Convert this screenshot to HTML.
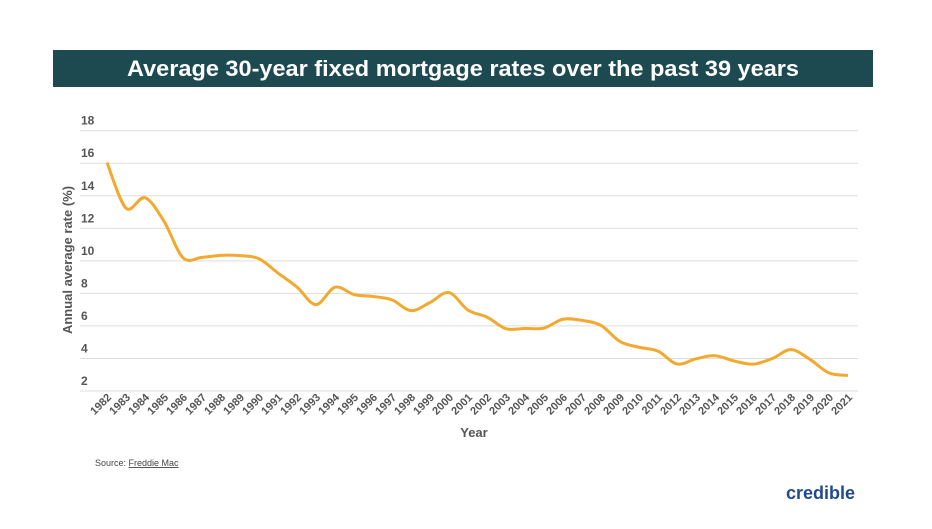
<!DOCTYPE html>
<html><head><meta charset="utf-8"><style>
body{margin:0;background:#fff;width:932px;height:524px;overflow:hidden;font-family:"Liberation Sans",sans-serif}
</style></head><body>
<svg width="932" height="524">
<rect x="53" y="50" width="820" height="37" fill="#1d4950"/>
<text x="127" y="76" textLength="672" lengthAdjust="spacingAndGlyphs" fill="#fff" font-size="22" font-weight="bold">Average 30-year fixed mortgage rates over the past 39 years</text>
<g id="grid"></g><g id="xl"></g>
<text transform="translate(72,260) rotate(-90)" text-anchor="middle" font-size="13" font-weight="bold" fill="#555">Annual average rate (%)</text>
<text x="474" y="437" text-anchor="middle" font-size="13" font-weight="bold" fill="#555">Year</text>
<text x="95" y="466" font-size="9" fill="#444">Source: <tspan text-decoration="underline">Freddie Mac</tspan></text>
<text x="855" y="499" text-anchor="end" font-size="18" font-weight="bold" fill="#1f4a8c">credible</text>
<path id="line" fill="none" stroke="#f3a92f" stroke-width="3" stroke-linejoin="round"/>
</svg>
<script>
const years=[1982,1983,1984,1985,1986,1987,1988,1989,1990,1991,1992,1993,1994,1995,1996,1997,1998,1999,2000,2001,2002,2003,2004,2005,2006,2007,2008,2009,2010,2011,2012,2013,2014,2015,2016,2017,2018,2019,2020,2021];
const rates=[16.04,13.24,13.88,12.43,10.19,10.21,10.34,10.32,10.13,9.25,8.39,7.31,8.38,7.93,7.81,7.60,6.94,7.44,8.05,6.97,6.54,5.83,5.84,5.87,6.41,6.34,6.03,5.04,4.69,4.45,3.66,3.98,4.17,3.85,3.65,3.99,4.54,3.94,3.11,2.96];
const yTicks=[2,4,6,8,10,12,14,16,18];
const NS="http://www.w3.org/2000/svg";
const x=i=>107+i*(741/39);
const y=v=>391-(v-2)*(260.3/16);
const g=document.getElementById('grid');
yTicks.forEach(t=>{
 const l=document.createElementNS(NS,'line');
 l.setAttribute('x1',80);l.setAttribute('x2',858);l.setAttribute('y1',y(t));l.setAttribute('y2',y(t));
 l.setAttribute('stroke','#ddd');l.setAttribute('stroke-width','1');
 
 
 g.appendChild(l);
 const tx=document.createElementNS(NS,'text');
 tx.setAttribute('x',81);tx.setAttribute('y',y(t)-6);tx.setAttribute('font-size','12');tx.setAttribute('font-weight','bold');tx.setAttribute('fill','#555');
 tx.textContent=t;
 
 
 g.appendChild(tx);
});
const xl=document.getElementById('xl');
years.forEach((yr,i)=>{
 const tx=document.createElementNS(NS,'text');
 tx.setAttribute('transform','translate('+(x(i)+5)+',398) rotate(-45)');
 tx.setAttribute('text-anchor','end');tx.setAttribute('font-size','11');tx.setAttribute('font-weight','bold');tx.setAttribute('fill','#555');
 tx.textContent=yr;
 
 
 xl.appendChild(tx);
});
const pts=rates.map((v,i)=>[x(i),y(v)]);
let d='M'+pts[0][0]+','+pts[0][1];
for(let i=0;i<pts.length-1;i++){
 const p0=pts[i-1]||pts[i],p1=pts[i],p2=pts[i+1],p3=pts[i+2]||p2;
 const c1=[p1[0]+(p2[0]-p0[0])/6,p1[1]+(p2[1]-p0[1])/6];
 const c2=[p2[0]-(p3[0]-p1[0])/6,p2[1]-(p3[1]-p1[1])/6];
 d+=' C'+c1+' '+c2+' '+p2;
}
document.getElementById('line').setAttribute('d',d);
</script>
</body></html>
